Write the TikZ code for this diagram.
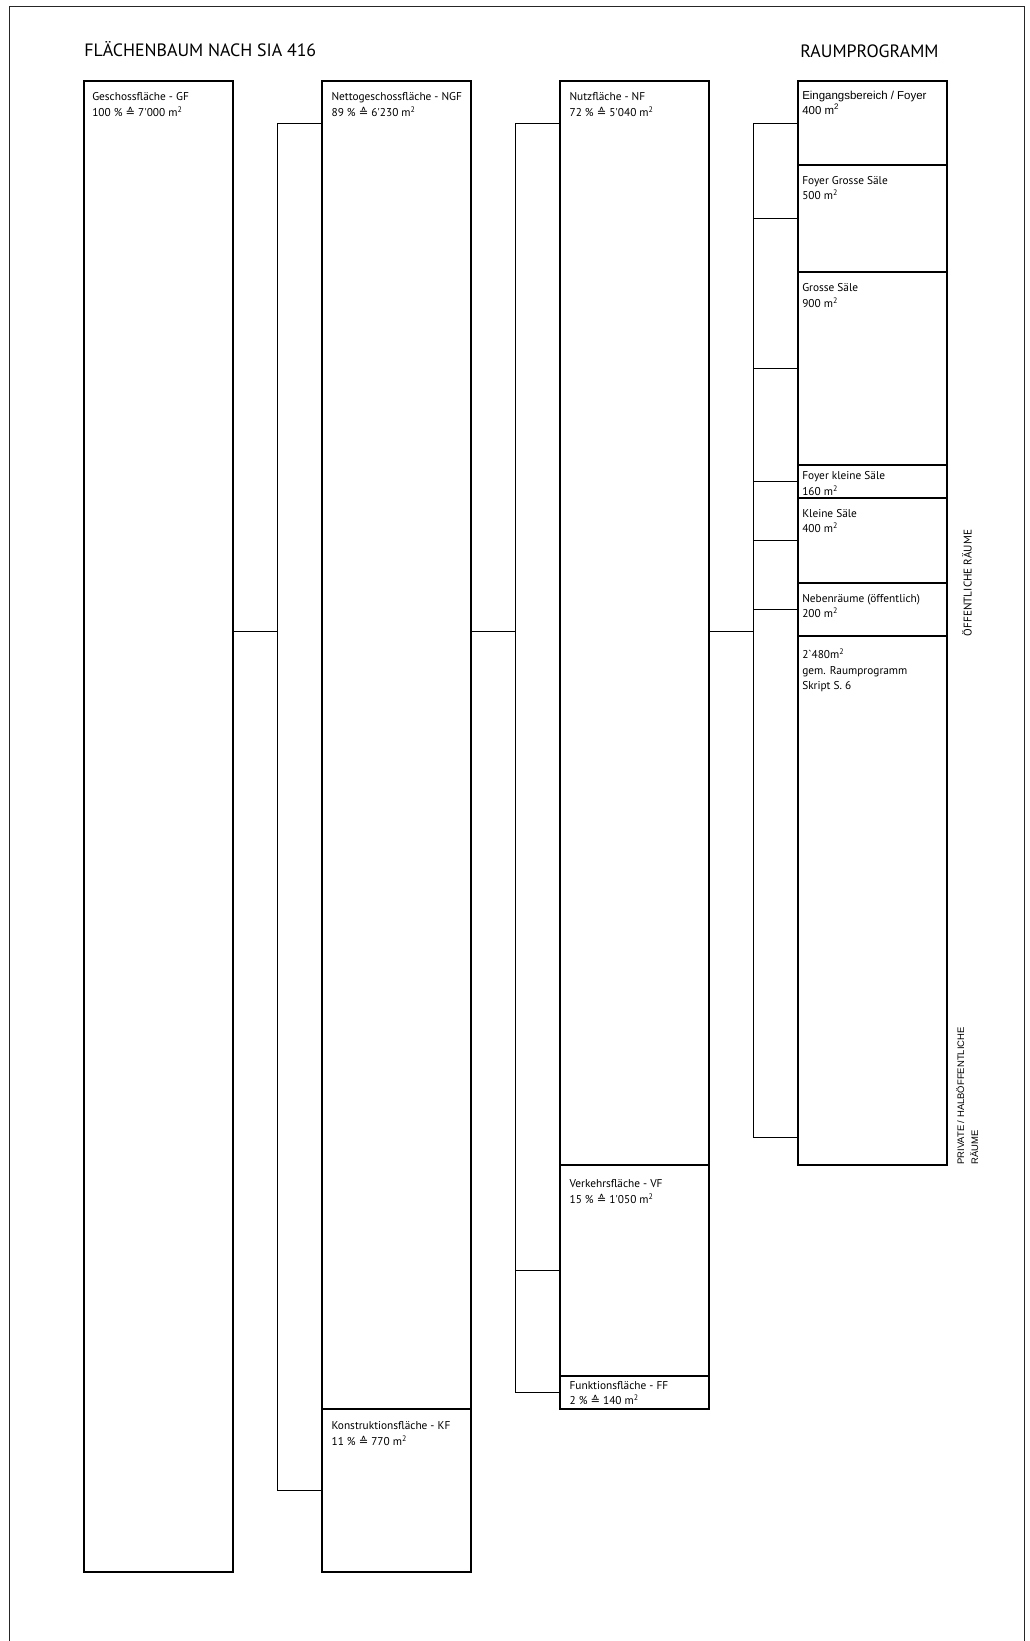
\documentclass[tikz,border=0pt]{standalone}
\usepackage{fontspec}
\setmainfont{PT Sans}
\newfontfamily\arialschrift{Liberation Sans}
\newfontfamily\zeichenschrift{DejaVu Sans}
\usetikzlibrary{positioning, calc}
\newcommand{\entspr}{{\zeichenschrift\char"2259}}
\newcommand{\qm}{m\textsuperscript{2}}
\tikzset{
  flaeche/.style = {rectangle, draw=black, line width=1.1pt, anchor=north west,
                    minimum width=111.75pt, inner sep=0pt, outer sep=0pt},
  raum/.style    = {flaeche, line width=0.9pt},
  beschr/.style  = {anchor=north west, inner sep=0pt, align=left,
                    font=\fontsize{8.5}{11.8}\selectfont},
  titel/.style   = {anchor=base west, inner sep=0pt,
                    font=\fontsize{13.4}{16}\selectfont},
  seite/.style   = {rotate=90, inner sep=0pt, align=left},
  verb/.style    = {draw=black, line width=0.6pt},
  rahmen/.style  = {draw=black!85, line width=0.7pt},
}

\begin{document}
\begin{tikzpicture}[x=0.75pt, y=-0.75pt, node distance=66.75pt]
  \useasboundingbox (0,0) rectangle (1030,1641);
  \draw[rahmen] (9,1641) |- (1024,6) -- (1024,1641);

  \node[titel] (titel1) at (84,57) {FLÄCHENBAUM NACH SIA 416};
  \node[titel] (titel2) at (800,58) {RAUMPROGRAMM};

  % Flaechenbaum
  \node[flaeche, minimum height=1118.25pt] (gf) at (84,81) {};
  \node[flaeche, minimum height=996pt, right=of gf.north east, anchor=north west] (ngf) {};
  \node[flaeche, minimum height=122.25pt, below=0pt of ngf] (kf) {};
  \node[flaeche, minimum height=813pt, right=of ngf.north east, anchor=north west] (nf) {};
  \node[flaeche, minimum height=158.25pt, below=0pt of nf] (vf) {};
  \node[flaeche, minimum height=24.75pt, below=0pt of vf] (ff) {};

  % Raumprogramm
  \node[raum, minimum height=63pt, right=of nf.north east, anchor=north west] (r1) {};
  \node[raum, minimum height=80.25pt, below=0pt of r1] (r2) {};
  \node[raum, minimum height=144.75pt, below=0pt of r2] (r3) {};
  \node[raum, minimum height=24.75pt, below=0pt of r3] (r4) {};
  \node[raum, minimum height=63.75pt, below=0pt of r4] (r5) {};
  \node[raum, minimum height=39.75pt, below=0pt of r5] (r6) {};
  \node[raum, minimum height=396.75pt, below=0pt of r6] (r7) {};

  \node[beschr, below right=8.5pt and 6pt of gf.north west] (gf-t)
       {Geschossfläche - GF\\100 \% \entspr{} 7\textquotesingle 000 \qm};
  \node[beschr, below right=8.5pt and 7pt of ngf.north west] (ngf-t)
       {Nettogeschossfläche - NGF\\89 \% \entspr{} 6\textquotesingle 230 \qm};
  \node[beschr, below right=9pt and 7pt of kf.north west] (kf-t)
       {Konstruktionsfläche - KF\\11 \% \entspr{} 770 \qm};
  \node[beschr, below right=8.5pt and 7pt of nf.north west] (nf-t)
       {Nutzfläche - NF\\72 \% \entspr{} 5\textquotesingle 040 \qm};
  \node[beschr, below right=10.5pt and 7pt of vf.north west] (vf-t)
       {Verkehrsfläche - VF\\15 \% \entspr{} 1\textquotesingle 050 \qm};
  \node[beschr, below right=3.5pt and 7pt of ff.north west] (ff-t)
       {Funktionsfläche - FF\\2 \% \entspr{} 140 \qm};

  \node[beschr, below right=7.5pt and 3pt of r1.north west,
        font=\arialschrift\fontsize{8.6}{11.5}\selectfont] (r1-t)
       {Eingangsbereich / Foyer\\400 \qm};
  \node[beschr, below right=8pt and 3pt of r2.north west] (r2-t)
       {Foyer Grosse Säle\\500 \qm};
  \node[beschr, below right=8.5pt and 3pt of r3.north west] (r3-t)
       {Grosse Säle\\900 \qm};
  \node[beschr, below right=4.5pt and 3pt of r4.north west] (r4-t)
       {Foyer kleine Säle\\160 \qm};
  \node[beschr, below right=8pt and 3pt of r5.north west] (r5-t)
       {Kleine Säle\\400 \qm};
  \node[beschr, below right=8pt and 3pt of r6.north west] (r6-t)
       {Nebenräume (öffentlich)\\200 \qm};
  \node[beschr, below right=9.5pt and 3pt of r7.north west] (r7-t)
       {2\textasciigrave 480m\textsuperscript{2}\\gem. Raumprogramm\\Skript S. 6};

  \node[seite, font=\fontsize{8.4}{10}\selectfont] (oeff)
       at ([xshift=15pt]r6.north east) {ÖFFENTLICHE RÄUME};
  \node[seite, anchor=north west, font=\arialschrift\fontsize{7.1}{10.5}\selectfont] (priv)
       at ([xshift=6.75pt]r7.south east) {PRIVATE / HALBÖFFENTLICHE\\RÄUME};

  % Verbindungen
  \coordinate (s1) at ($(gf.north east)!0.5!(ngf.north west)$);
  \coordinate (s2) at ($(ngf.north east)!0.5!(nf.north west)$);
  \coordinate (s3) at ($(nf.north east)!0.5!(r1.north west)$);
  \coordinate (a1) at ([yshift=-412.5pt]gf.north east);
  \coordinate (a2) at ([yshift=-412.5pt]ngf.north east);
  \coordinate (a3) at ([yshift=-412.5pt]nf.north east);
  \coordinate (e7) at ([yshift=21pt]r7.south west);

  \draw[verb] (a1) -- (a1 -| s1);
  \draw[verb] ([yshift=-31.5pt]ngf.north west) -| (s1 |- kf.west) -- (kf.west);

  \draw[verb] (a2) -- (a2 -| s2);
  \draw[verb] ([yshift=-31.5pt]nf.north west) -| (s2 |- ff.west) -- (ff.west);
  \draw[verb] (vf.west) -- (vf.west -| s2);

  \draw[verb] (a3) -- (a3 -| s3);
  \draw[verb] (r1.west) -| (s3 |- e7) -- (e7);
  \foreach \r in {r2,r3,r4,r5,r6}
    \draw[verb] (\r.west) -- (\r.west -| s3);
\end{tikzpicture}
\end{document}
